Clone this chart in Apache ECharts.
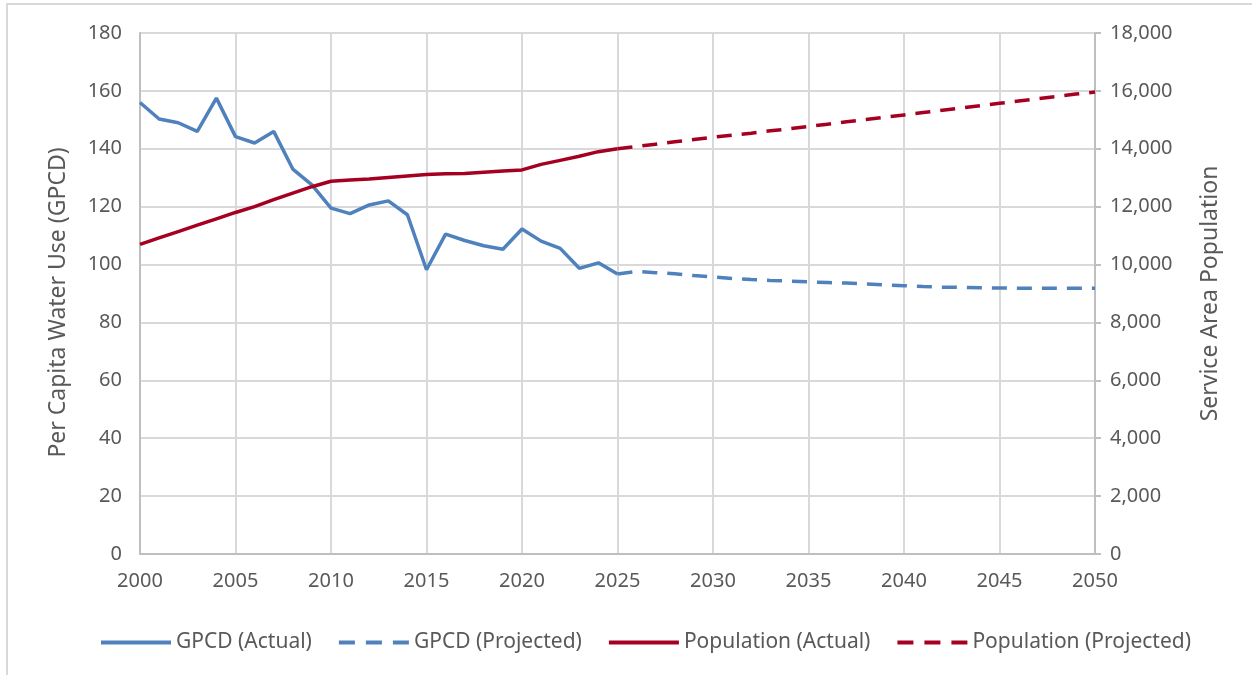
<!DOCTYPE html>
<html>
<head>
<meta charset="utf-8">
<script src="https://cdn.jsdelivr.net/npm/echarts@6/dist/echarts.min.js"></script>
<style>
    html, body { margin: 0; padding: 0; background: #fff; }
    #frame { position: absolute; left: 6px; top: 3px; width: 1300px; height: 700px;
             border-left: 2px solid #d9d9d9; border-top: 2px solid #d9d9d9; }
    #root { position: absolute; left: 0; top: 0; width: 1252px; height: 675px; }
</style>
</head>
<body>
<div id="frame"></div>
<div id="root"></div>
<script>
// actual years 2000-2025
const actualYears = [2000, 2001, 2002, 2003, 2004, 2005, 2006, 2007, 2008, 2009,
    2010, 2011, 2012, 2013, 2014, 2015, 2016, 2017, 2018, 2019,
    2020, 2021, 2022, 2023, 2024, 2025]
const gpcdActual = [156, 150.3, 149, 146, 157.5, 144.2, 142, 146, 133, 127.5,
    119.5, 117.6, 120.6, 122, 117.2, 98.2, 110.5, 108.3, 106.5, 105.3,
    112.3, 108.1, 105.6, 98.7, 100.6, 96.7]
const popActual = [10700, 10920, 11140, 11360, 11580, 11800, 12000, 12240, 12470, 12690,
    12880, 12920, 12960, 13010, 13060, 13110, 13140, 13150, 13190, 13230,
    13270, 13460, 13600, 13740, 13900, 14000]

// projections 2025-2050
const projYears = [2025, 2026, 2027, 2028, 2029, 2030, 2031, 2032, 2033, 2034,
    2035, 2036, 2037, 2038, 2039, 2040, 2041, 2042, 2043, 2044,
    2045, 2046, 2047, 2048, 2049, 2050]
const gpcdProjected = [96.7, 97.6, 97.2, 96.8, 96.2, 95.7, 95.2, 94.8, 94.5, 94.3,
    94.0, 93.8, 93.6, 93.3, 93.0, 92.7, 92.4, 92.2, 92.1, 92.0,
    91.9, 91.8, 91.8, 91.8, 91.8, 91.8]
const popProjected = [14000, 14080, 14160, 14240, 14320, 14400, 14470, 14540, 14620, 14690,
    14770, 14850, 14930, 15010, 15090, 15170, 15250, 15330, 15410, 15490,
    15570, 15650, 15730, 15810, 15890, 15960]

const xTicks = { min: 2000, max: 2050, interval: 5 }
const gpcdTicks = { min: 0, max: 180, interval: 20 }
const popTicks = { min: 0, max: 18000, interval: 2000 }

const seriesNames = ['GPCD (Actual)', 'GPCD (Projected)', 'Population (Actual)', 'Population (Projected)']

const blue = '#4f81bd'
const red = '#a50021'
const txt = '#595959'
const font = 'Noto Sans'
const dash = [15, 10]

const pairs = (xs, ys) => xs.map((x, i) => [x, ys[i]])

// legend samples: solid or 3 longer dashes
const legendItem = (name, color, dashed) => ({
    name: name,
    lineStyle: { color: color, width: 4, type: dashed ? [16, 11] : 'solid' }
})

const chart = echarts.init(document.getElementById('root'))
const option = {
    animation: false,
    textStyle: { fontFamily: font, color: txt },
    grid: { left: 140, right: 157, top: 33, bottom: 121 },
    legend: {
        left: 94,
        top: 627,
        itemWidth: 70,
        itemHeight: 3,
        itemGap: 25,
        itemStyle: { opacity: 0 },
        textStyle: { fontFamily: font, fontSize: 21, color: txt },
        data: [
            legendItem(seriesNames[0], blue, false),
            legendItem(seriesNames[1], blue, true),
            legendItem(seriesNames[2], red, false),
            legendItem(seriesNames[3], red, true)
        ]
    },
    xAxis: {
        type: 'value',
        min: xTicks.min,
        max: xTicks.max,
        interval: xTicks.interval,
        axisLine: { show: true, lineStyle: { color: '#bfbfbf', width: 2 } },
        axisTick: { show: false },
        axisLabel: { margin: 17, fontSize: 20, color: txt, fontFamily: font, formatter: v => String(v) },
        splitLine: { show: true, lineStyle: { color: '#d9d9d9', width: 2 } }
    },
    yAxis: [{
        type: 'value',
        min: gpcdTicks.min,
        max: gpcdTicks.max,
        interval: gpcdTicks.interval,
        name: 'Per Capita Water Use (GPCD)',
        nameLocation: 'middle',
        nameGap: 70,
        nameTextStyle: { fontSize: 23, color: txt, fontFamily: font, padding: [0, 18, 0, 0] },
        axisLine: { show: true, lineStyle: { color: '#bfbfbf', width: 2 } },
        axisTick: { show: false },
        axisLabel: { margin: 18, fontSize: 20, color: txt, fontFamily: font },
        splitLine: { show: true, lineStyle: { color: '#d9d9d9', width: 2 } }
    }, {
        type: 'value',
        position: 'right',
        min: popTicks.min,
        max: popTicks.max,
        interval: popTicks.interval,
        name: 'Service Area Population',
        nameLocation: 'middle',
        nameGap: 104,
        nameTextStyle: { fontSize: 23, color: txt, fontFamily: font },
        axisLine: { show: true, lineStyle: { color: '#bfbfbf', width: 2 } },
        axisTick: { show: true, length: 6, lineStyle: { color: '#bfbfbf', width: 2 } },
        axisLabel: { margin: 15, fontSize: 20, color: txt, fontFamily: font },
        splitLine: { show: false }
    }],
    series: [{
        name: seriesNames[0],
        type: 'line',
        yAxisIndex: 0,
        symbol: 'none',
        lineStyle: { color: blue, width: 3.5 },
        itemStyle: { color: blue },
        data: pairs(actualYears, gpcdActual)
    }, {
        name: seriesNames[1],
        type: 'line',
        yAxisIndex: 0,
        symbol: 'none',
        lineStyle: { color: blue, width: 3.5, type: dash },
        itemStyle: { color: blue },
        data: pairs(projYears, gpcdProjected)
    }, {
        name: seriesNames[2],
        type: 'line',
        yAxisIndex: 1,
        symbol: 'none',
        lineStyle: { color: red, width: 3.5 },
        itemStyle: { color: red },
        data: pairs(actualYears, popActual)
    }, {
        name: seriesNames[3],
        type: 'line',
        yAxisIndex: 1,
        symbol: 'none',
        lineStyle: { color: red, width: 3.5, type: dash },
        itemStyle: { color: red },
        data: pairs(projYears, popProjected)
    }]
}
chart.setOption(option)
</script>
</body>
</html>
